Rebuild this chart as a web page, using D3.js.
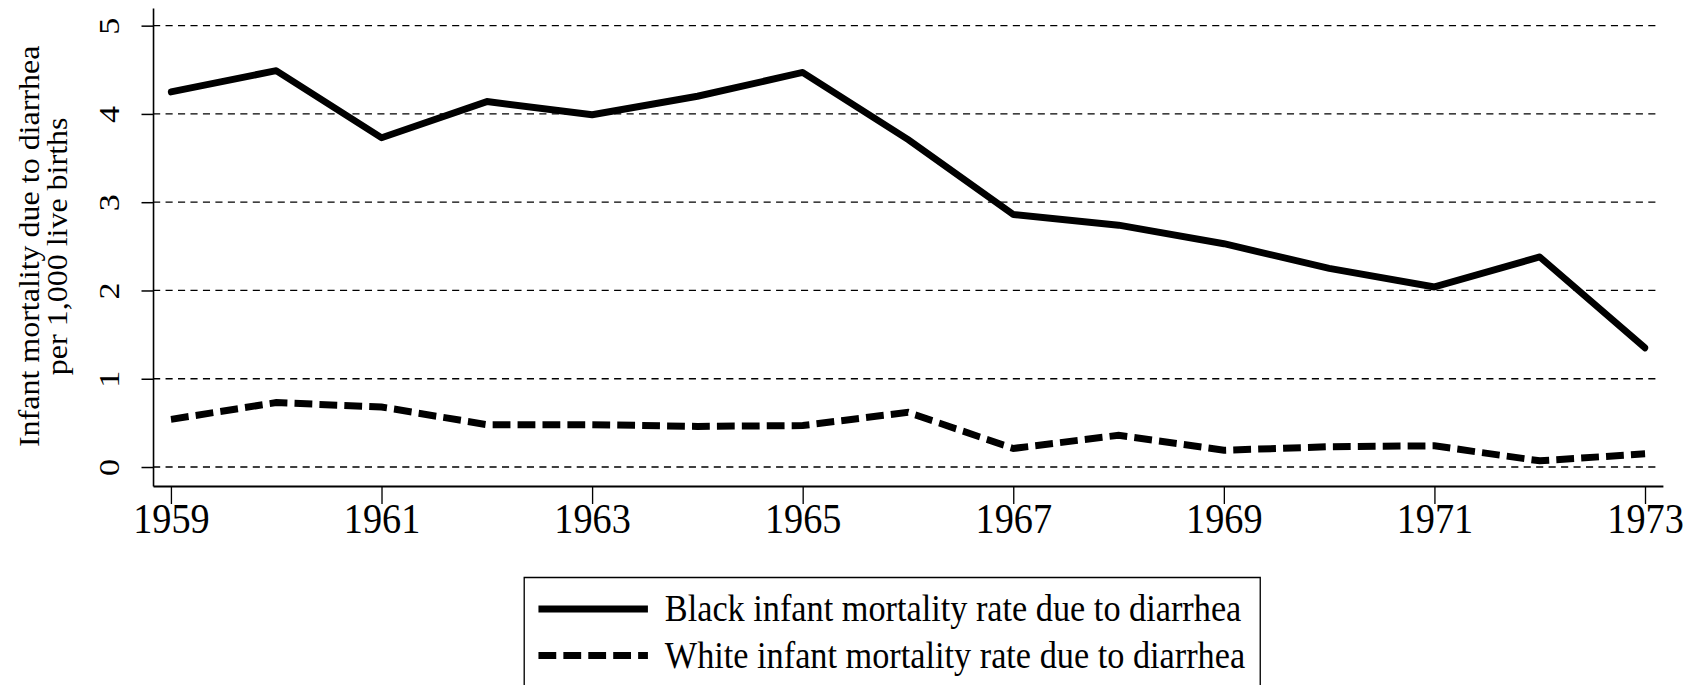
<!DOCTYPE html>
<html>
<head>
<meta charset="utf-8">
<script src="https://cdn.jsdelivr.net/npm/d3@7"></script>
<style>
  html, body { margin: 0; padding: 0; background: #fff; }
  svg { display: block; }
  text { font-family: "Liberation Serif", "Times New Roman", serif; fill: #000; }
</style>
</head>
<body>
<div id="chart"></div>
<script>
// Infant mortality due to diarrhea, per 1,000 live births
const years = [1959, 1960, 1961, 1962, 1963, 1964, 1965, 1966, 1967, 1968, 1969, 1970, 1971, 1972, 1973];
const blackRate = [4.25, 4.49, 3.73, 4.14, 3.99, 4.20, 4.47, 3.71, 2.86, 2.74, 2.53, 2.25, 2.04, 2.38, 1.35];
const whiteRate = [0.54, 0.73, 0.68, 0.48, 0.48, 0.46, 0.47, 0.62, 0.21, 0.36, 0.19, 0.23, 0.24, 0.07, 0.15];
const xTicks = [1959, 1961, 1963, 1965, 1967, 1969, 1971, 1973];
const yTicks = [0, 1, 2, 3, 4, 5];
const yTitle = ['Infant mortality due to diarrhea', 'per 1,000 live births'];
const legendLabels = ['Black infant mortality rate due to diarrhea', 'White infant mortality rate due to diarrhea'];

// the original graph is squeezed sideways, so draw in a wider box and let the viewBox squash it
const W = 1699, H = 685, squeeze = 0.89;
const VW = W / squeeze;

const svg = d3.select('#chart')
    .append('svg')
    .attr('width', W)
    .attr('height', H)
    .attr('viewBox', `0 0 ${VW} ${H}`)
    .attr('preserveAspectRatio', 'none');

const x = d3.scaleLinear().domain([1958.83, 1973.17]).range([172, 1868.5]);
const y = d3.scaleLinear().domain([-0.215, 5.2]).range([486, 8]);

// gridlines
svg.append('g')
    .selectAll('line')
    .data(yTicks)
    .enter().append('line')
    .attr('x1', x.range()[0])
    .attr('x2', 1866)
    .attr('y1', d => y(d))
    .attr('y2', d => y(d))
    .attr('stroke', '#000')
    .attr('stroke-width', 1.3)
    .attr('stroke-dasharray', '8,6');

// y axis
const yAxis = svg.append('g')
    .attr('transform', `translate(${x.range()[0]},0)`)
    .call(d3.axisLeft(y).tickValues(yTicks).tickSize(13).tickSizeOuter(0).tickFormat(d3.format('d')));
yAxis.select('.domain').attr('stroke-width', 1.8);
yAxis.selectAll('.tick line').attr('stroke-width', 1.5);
yAxis.selectAll('.tick text')
    .attr('transform', 'rotate(-90)')
    .attr('x', 0)
    .attr('y', -38)
    .attr('dy', 0)
    .attr('text-anchor', 'middle')
    .style('font-size', '34px');

// x axis
const xAxis = svg.append('g')
    .attr('transform', `translate(0,${y.range()[0]})`)
    .call(d3.axisBottom(x).tickValues(xTicks).tickSize(18).tickSizeOuter(0).tickFormat(d3.format('d')));
xAxis.select('.domain').attr('stroke-width', 2);
xAxis.selectAll('.tick line').attr('stroke-width', 1.5);
xAxis.selectAll('.tick text')
    .attr('y', 47)
    .attr('dy', 0)
    .style('font-size', '43px');

// y title, two lines
svg.append('g')
    .attr('transform', `translate(0,${(y(0) + y(5)) / 2}) rotate(-90)`)
    .selectAll('text')
    .data(yTitle)
    .enter().append('text')
    .attr('x', 0)
    .attr('y', (d, i) => 44 + i * 31)
    .attr('text-anchor', 'middle')
    .style('font-size', '32px')
    .text(d => d);

// series
const line = d3.line()
    .x((d, i) => x(years[i]))
    .y(d => y(d));

svg.append('path')
    .datum(blackRate)
    .attr('d', line)
    .attr('fill', 'none')
    .attr('stroke', '#000')
    .attr('stroke-width', 7)
    .attr('stroke-linejoin', 'round')
    .attr('stroke-linecap', 'round');

svg.append('path')
    .datum(whiteRate)
    .attr('d', line)
    .attr('fill', 'none')
    .attr('stroke', '#000')
    .attr('stroke-width', 7)
    .attr('stroke-dasharray', '20,8');

// legend
const legend = svg.append('g');
legend.append('rect')
    .attr('x', 589)
    .attr('y', 577.5)
    .attr('width', 827)
    .attr('height', 200)
    .attr('fill', '#fff')
    .attr('stroke', '#000')
    .attr('stroke-width', 1.5);

const rows = legend.selectAll('g.row')
    .data(legendLabels)
    .enter().append('g')
    .attr('class', 'row')
    .attr('transform', (d, i) => `translate(0,${609 + i * 46.5})`);

rows.append('line')
    .attr('x1', 605)
    .attr('x2', 728)
    .attr('y1', 0)
    .attr('y2', 0)
    .attr('stroke', '#000')
    .attr('stroke-width', 7)
    .attr('stroke-dasharray', (d, i) => i === 0 ? null : '20,8');

rows.append('text')
    .attr('x', 747)
    .attr('y', 12)
    .style('font-size', '38.5px')
    .text(d => d);
</script>
</body>
</html>
